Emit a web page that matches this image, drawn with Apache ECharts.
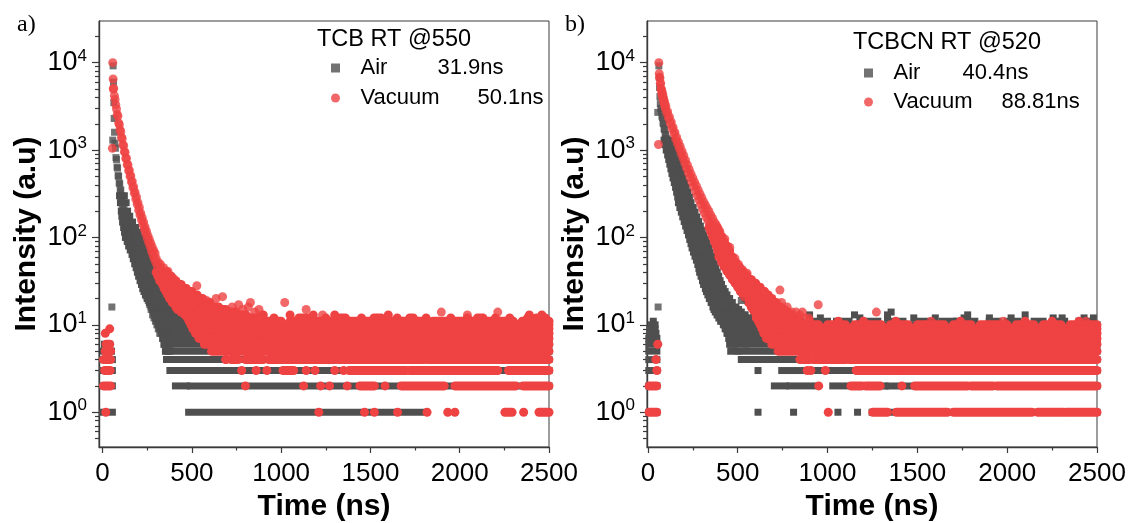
<!DOCTYPE html>
<html><head><meta charset="utf-8">
<script src="https://cdn.jsdelivr.net/npm/echarts@6/dist/echarts.min.js"></script>
<style>html,body{margin:0;padding:0;background:#fff}#c{width:1131px;height:523px}</style>
</head><body><div id="c"></div>
<script>
// ---------- tick labels / text ----------
const xTickLabels = [0, 500, 1000, 1500, 2000, 2500];
const xMinorTicks = [250, 750, 1250, 1750, 2250];
const yMajorTicks = [1, 10, 100, 1000, 10000];
const yMinorTicks = [0.5,0.6,0.7,0.8,0.9,2,3,4,5,6,7,8,9,20,30,40,50,60,70,80,90,200,300,400,500,600,700,800,900,2000,3000,4000,5000,6000,7000,8000,9000,20000];
const panelLetters = ['a)', 'b)'];
const sampleTitles = ['TCB RT @550', 'TCBCN RT @520'];
const seriesNames = ['Air', 'Vacuum'];
const lifetimesA = ['31.9ns', '50.1ns'];
const lifetimesB = ['40.4ns', '88.81ns'];

// ---------- panel a: Air (points [t(ns), counts]) ----------
const airA_points = [[52,16],[57,1300],[59,9200],[61,6000],[63,3500],[65,2300],[67,1600],[69,1200],[72,1050],[75,820],[78,780],[81,640],[84,620],[87,510],[90,500],[93,420],[96,410],[99,340],[102,350],[105,280],[108,300],[111,235],[114,260],[117,200],[120,225],[123,170],[126,195],[129,145],[132,170],[135,125],[138,150],[141,110],[144,135],[147,98],[150,120],[153,88],[156,108],[159,80],[162,98],[165,72],[168,90],[171,66],[174,82],[177,60],[180,75],[184,55],[188,68],[192,48],[196,60],[200,42],[204,54],[208,37],[212,48],[216,33],[220,43],[224,30],[228,38],[232,27],[236,34],[240,24],[244,31],[248,21],[252,28],[256,19],[260,25],[264,17],[268,22],[272,15],[276,20],[280,13],[284,18],[288,12],[292,16],[296,11],[300,14],[304,10],[308,13],[312,9],[316,12],[320,8],[324,11],[328,8],[332,10],[336,7],[340,9],[344,6],[348,9],[352,6],[356,8],[360,5],[364,7],[368,5],[372,8],[376,5],[380,6]];
// runs of equal counts: [counts, tStart, tEnd] (single dot: [counts, t])
const airA_runs = [[1,0,55],[2,0,55],[3,0,55],[4,0,55],[5,5,50],[6,10,40],
[300,95,122],[250,100,132],[200,105,140],[175,108,152],[150,112,168],[130,118,185],[115,123,200],[100,128,215],[90,138,228],[80,146,236],[72,155,245],[64,165,255],[57,172,265],[50,180,275],[45,188,285],[40,195,300],[36,202,315],[32,210,330],[29,218,345],[26,225,360],[24,232,375],[22,240,390],[20,250,405],[18,262,425],[16,272,445],[15,280,460],[14,286,475],[13,292,490],[12,298,505],[11,305,520],[10,312,540],
[9,320,2500],[8,330,2500],[7,338,2500],[6,345,2500],[5,352,2500],[4,358,2500],[3,377,2500],[2,408,470],[2,492,2500],[1,482,1810]];

// ---------- panel a: Vacuum ----------
const vacA_points = [[55,1050],[57,10000],[59,6500],[60,5000],[62,5100],[66,4200],[70,3800],[74,3300],[78,2950],[82,2550],[86,2450],[90,2050],[94,1950],[98,1700],[102,1620],[106,1400],[110,1350],[114,1150],[118,1120],[122,960],[126,940],[130,800],[134,800],[138,680],[142,680],[146,580],[150,590],[154,500],[158,510],[162,430],[166,440],[170,370],[174,380],[178,320],[182,330],[186,275],[190,290],[194,240],[198,250],[202,205],[206,220],[210,180],[214,190],[218,158],[222,168],[226,140],[230,150],[234,124],[238,132],[242,110],[246,118],[250,98],[254,105],[258,88],[262,95],[266,79],[270,86],[274,70],[278,78],[282,63],[286,71],[290,57],[294,66],[298,52],
[300,58],[306,47],[312,52],[318,40],[324,49],[330,44],[336,36],[342,45],[348,33],[354,40],[360,30],[366,41],[372,26],[378,36],[384,29],[390,24],[396,34],[402,27],[408,22],[414,31],[420,25],[426,19],[432,29],[438,22],[444,18],[450,27],[456,21],[462,16],[468,25],[474,19],[480,15],[486,24],[492,18],[498,13],[504,22],[510,17],[516,12],[522,21],[528,28],[534,15],[540,11],[546,20],[552,14],[558,7],[564,18],[570,13],[576,10],[582,19],[588,14],[594,11],[600,17],[606,12],[612,9],[618,16],[624,13],[630,10],[636,20],[642,12],[648,9],[654,15],[660,11],[666,8],[672,21],[678,12],[684,9],[690,4],[696,14],[702,10],[708,7],[714,13],[720,11],[726,16],[732,9],[738,12],[744,8],[750,14],[756,10],[762,17],[768,8],[774,12],[780,9],[786,15],[792,11],[798,7],[804,13],[810,10],[816,16],[822,9],[828,18],[834,12],[840,8],[846,11],[852,14],[858,9],[864,12],[870,10],[876,15],[882,8],[888,11],[894,13],[900,9],
[1020,18],[1140,15],[1232,13],[1897,14],[2043,13],[2213,14]];
const vacA_runs = [[1,18],[2,5,45],[3,12,42],[4,5,45],[5,15,45],[6,20,40],[8,15],[9,40],
[40,300,360],[36,310,385],[32,320,410],[29,335,440],[26,345,470],[24,355,500],[22,365,530],[20,375,560],[18,390,600],[16,410,650],[15,420,690],[14,440,740],[13,460,800],
[1,1211],[1,1467],[1,1522],[1,1652],[1,1817],[1,1933],[1,1973],[1,2253,2293],[1,2358],[1,2444,2500],
[2,800],[2,1126],[2,1221],[2,1271],[2,1370],[2,1441,1522],[2,1582],[2,1672,1913],[2,1973,2314],[2,2354,2500],
[3,779],[3,860],[3,920],[3,1010,1070],[3,1140],[3,1190],[3,1300],[3,1350],[3,1381,1700],[3,1720,2213],[3,2273,2500],
[4,690],[4,720,760],[4,800,900],[4,930,1300],[4,1320,1800],[4,1820,2500],
[5,610,2500],[6,570,2500],[7,540,2500],[8,520,2500],[9,505,2500],
[10,495,1200],[10,1220,2000],[10,2020,2500],
[11,485,800],[11,850,1000],[11,1050,1250],[11,1280,1500],[11,1550,1800],[11,1850,2100],[11,2150,2300],[11,2350,2500],
[12,475,700],[12,760],[12,820,860],[12,960],[12,1100,1150],[12,1250],[12,1330,1360],[12,1450],[12,1520,1560],[12,1650],[12,1720,1740],[12,1812],[12,1950],[12,2043],[12,2100,2130],[12,2200],[12,2280],[12,2380],[12,2430],[12,2480],
[13,900],[13,1050],[13,1180],[13,1300],[13,1600],[13,2390],[13,2460]];

// ---------- panel b: Air ----------
const airB_points = [[55,2700],[57,16],[61,9200],[63,6800],[65,5200],[67,4100],[69,3400],[72,3000],[75,2800],[78,2450],[81,2350],[84,2050],[87,2000],[90,1750],[93,1720],[96,1500],[99,1500],[102,1320],[105,1350],[108,1180],[111,1230],[114,1060],[117,1120],[120,960],[124,1000],[128,860],[132,900],[136,760],[140,800],[144,670],[148,710],[152,600],[156,640],[160,530],[164,570],[168,470],[172,500],[176,410],[180,445],[184,360],[188,395],[192,320],[196,350],
[200,270],[204,330],[208,235],[212,290],[216,205],[220,262],[224,182],[228,235],[232,158],[236,210],[240,138],[244,188],[248,120],[252,168],[256,105],[260,150],[264,92],[268,134],[272,80],[276,120],[280,70],[284,106],[288,62],[292,95],[296,55],[300,84],
[305,58],[310,72],[315,48],[320,62],[325,42],[330,55],[335,37],[340,49],[345,32],[350,44],[355,28],[360,39],[365,24],[370,34],[375,21],[380,30],[385,18],[390,27],[395,16],[400,24],[405,13],[410,21],[415,11],[420,19],[425,10],[430,17],[435,9],[440,16],[445,8],[450,15],[455,7],[460,13],[465,6],[470,12],[475,8],[480,14],[485,6],[490,11],[495,9],[500,5],[505,12],[510,8],[515,10],[520,19],[525,7],[530,11],[535,9],[540,13],[545,6],[550,10],[555,8],[560,12]];
const airB_runs = [[1,5,50],[2,5,50],[3,5,50],[4,5,50],[5,5,50],[6,5,50],[7,5,50],[8,10,45],[9,10,40],[10,20,40],[11,30],
[1300,90,135],[1150,96,142],[1000,102,150],[880,110,158],[780,116,165],[690,122,172],[610,128,180],[540,134,188],[480,140,196],[425,147,204],[375,154,213],[330,160,222],[290,166,231],
[250,170,240],[220,178,252],[195,186,262],[172,194,272],[152,202,282],[135,210,292],[120,218,302],[107,226,312],[95,233,322],[85,240,330],[76,246,338],[68,254,346],[61,262,354],[55,270,362],[49,278,370],[44,284,378],[40,288,386],[36,296,394],[32,304,402],[29,310,410],[26,320,420],[24,326,430],[22,334,440],[20,342,455],[18,352,470],[16,362,490],[15,368,505],[14,375,520],[13,385,540],[12,395,700],[11,405,760],[10,420,2500],
[9,430,2500],[8,440,2500],[7,450,2500],[6,455,2500],[5,461,2500],[4,520,2500],
[3,613],[3,745,846],[3,870,2500],
[2,704,765],[2,789,927],[2,1029,1130],[2,1180,1320],[2,1340,2500],
[1,613],[1,811],[1,1058],[1,1167],[1,1248],[1,1300,2500],
[11,780,850],[11,900,1000],[11,1050,1120],[11,1200,1280],[11,1350,1420],[11,1500,1560],[11,1640,1700],[11,1718,1820],[11,1900,1950],[11,2000,2060],[11,2150,2200],[11,2256,2320],[11,2400,2460],
[12,820],[12,960],[12,1180],[12,1334],[12,1480],[12,1600],[12,1760],[12,1901],[12,2022],[12,2256],[12,2306],[12,2428],[12,2480],
[13,900],[13,1150],[13,1334],[13,1780],[13,2100],[14,1354]];

// ---------- panel b: Vacuum ----------
const vacB_points = [[59,1160],[61,10000],[63,7500],[65,6800],[67,6700],[69,5800],[71,5800],[73,5000],[75,5000],[77,4450],[79,4650],[81,4100],[83,4300],[85,3800],[87,3950],[89,3500],[91,3650],[93,3230],[95,3380],[97,2980],[100,3150],[105,2650],[110,2750],[115,2320],[120,2400],[125,2020],[130,2100],[135,1760],[140,1830],[145,1540],[150,1600],[155,1340],[160,1400],[165,1180],[170,1240],[175,1040],[180,1100],[185,915],[190,970],[195,810],[200,860],[205,710],[210,760],[215,625],[220,675],[225,550],[230,600],[235,485],[240,535],[245,430],[250,480],[255,385],[260,430],[265,340],[270,390],[275,300],[280,350],[285,268],[290,315],[295,238],[300,285],[305,212],[310,256],[315,190],[320,235],[325,170],[330,215],[335,155],[340,198],[345,140],[350,180],[355,128],[360,165],[365,116],[370,150],[375,104],[380,140],[385,95],[390,128],[395,86],[400,118],[405,80],[410,104],[415,74],
[420,80],[424,58],[428,96],[432,64],[436,78],[440,46],[444,79],[448,51],[452,61],[456,77],[460,42],[464,48],[468,59],[472,34],[476,50],[480,39],[484,58],[488,33],[492,41],[496,47],[500,32],[504,49],[508,34],[512,25],[516,35],[520,26],[524,43],[528,29],[532,36],[536,21],[540,38],[544,25],[548,30],[552,39],[556,22],[560,25],[564,31],[568,18],[572,27],[576,21],[580,32],[584,18],[588,22],[592,26],[596,18],[600,27],[604,19],[608,14],[612,20],[616,15],[620,25],[624,17],[628,21],[632,13],[636,22],[640,15],[644,18],[648,24],[652,13],[656,16],[660,19],[664,11],[668,17],[672,13],[676,20],[680,12],[684,15],[688,17],[692,12],[696,18],[700,13],[704,10],[708,14],[712,10],[716,18],[720,12],[724,15],[728,9],[732,16],[735,25],[736,11],[740,13],[744,18],[748,10],[752,12],[756,15],[760,9],
[765,13],[770,10],[775,16],[780,9],[785,11],[790,13],[795,9],[800,14],[805,10],[810,8],[815,11],[820,8],[825,14],[830,9],[835,12],[840,7],[845,13],[850,8],[855,10],[860,14],[865,8],[870,9],[875,12],[880,7],[885,10],[890,8],[895,12],[900,7],
[948,17],[1272,14],[1577,11],[1978,11],[2438,11]];
const vacB_runs = [[1,7,49],[2,7,49],[3,50],[4,45],[6,55],
[130,340,385],[115,350,397],[102,360,410],[90,370,425],[80,380,440],[70,388,455],
[60,395,470],[52,410,490],[46,425,510],[41,440,530],[37,455,550],[33,470,575],[30,485,600],[27,500,625],[24,515,650],[22,530,670],[20,545,690],[18,560,710],[16,575,740],[15,585,760],[14,592,780],[13,598,800],[12,603,820],[11,615,840],
[1,1004],[1,1252,1333],[1,1383,1667],[1,1701,2138],[1,2170,2315],[1,2330,2500],
[2,951],[2,1130,1191],[2,1211,1293],[2,1414],[2,1485,1779],[2,1799,1921],[2,1942,2500],
[3,887],[3,907],[3,988],[3,1160,1420],[3,1430,2500],
[4,846,900],[4,920,1100],[4,1120,2500],
[5,725,2500],[6,690,2500],[7,660,2500],[8,645,2500],
[9,635,1000],[9,1020,1500],[9,1520,2500],
[10,625,800],[10,850,950],[10,1000,1100],[10,1150,1300],[10,1350,1450],[10,1500,1650],[10,1700,1800],[10,1850,2000],[10,2050,2150],[10,2200,2300],[10,2350,2500],
[11,900],[11,1060],[11,1200],[11,1380],[11,1740],[11,2100],[11,2250],[11,2400]];

// ---------- chart ----------
const GRAY = '#4f4f4f', RED = '#ef4242', AX = '#3a3a3a';
const FONT = '"Liberation Sans", Arial, Helvetica, sans-serif';
const SERIF = '"Liberation Serif", "Times New Roman", serif';
const yLogMin = Math.log10(0.4), yLogMax = Math.log10(30000);

const panels = [
  {left: 99, xMin: -20, air: airA_points, airRuns: airA_runs, vac: vacA_points, vacRuns: vacA_runs, life: lifetimesA},
  {left: 647, xMin: -5, air: airB_points, airRuns: airB_runs, vac: vacB_points, vacRuns: vacB_runs, life: lifetimesB}
];

function norm(runs) { return runs.map(r => r.length === 2 ? [r[0], r[1], r[1]] : r); }
function runRenderer(color, half, rounded) {
  return function (params, api) {
    const v = api.value(0), t0 = api.value(1), t1 = api.value(2);
    const a = api.coord([t0, v]), b = api.coord([t1, v]);
    return {type: 'rect', shape: {x: a[0] - half, y: a[1] - half, width: b[0] - a[0] + 2 * half, height: 2 * half, r: rounded ? half : 0},
      style: {fill: color}};
  };
}

const grids = [], xAxes = [], yAxes = [], series = [], legends = [], titles = [];
panels.forEach((p, i) => {
  grids.push({left: p.left, top: 21, width: 450, height: 426, show: true, borderColor: AX, borderWidth: 1,
    backgroundColor: 'transparent', containLabel: false, outerBoundsMode: 'none'});
  const axisLine = {show: true, onZero: false, lineStyle: {color: AX, width: 1.4}};
  xAxes.push({gridIndex: i, type: 'value', position: 'bottom', min: p.xMin, max: 2500,
    axisLine: axisLine,
    axisTick: {show: true, customValues: xTickLabels, length: 6, lineStyle: {color: AX, width: 1.2}},
    axisLabel: {show: true, customValues: xTickLabels, formatter: v => '{t|' + v + '}', margin: 13,
      rich: {t: {fontSize: 26, lineHeight: 28, fontFamily: FONT, color: '#000'}}},
    splitLine: {show: false},
    name: 'Time (ns)', nameLocation: 'middle', nameGap: 45,
    nameTextStyle: {fontSize: 30, fontWeight: 'bold', color: '#000', fontFamily: FONT}});
  xAxes.push({gridIndex: i, type: 'value', position: 'bottom', min: p.xMin, max: 2500,
    axisLine: {show: false, onZero: false},
    axisTick: {show: true, customValues: xMinorTicks, length: 3.5, lineStyle: {color: AX, width: 1.2}},
    axisLabel: {show: false}, splitLine: {show: false}});
  yAxes.push({gridIndex: i, type: 'log', logBase: 10, min: 0.4, max: 30000, position: 'left',
    axisLine: {show: false, onZero: false}, axisTick: {show: false}, axisLabel: {show: false}, splitLine: {show: false}});
  yAxes.push({gridIndex: i, type: 'value', position: 'left', min: yLogMin, max: yLogMax,
    axisLine: axisLine,
    axisTick: {show: true, customValues: yMajorTicks.map(Math.log10), length: 7, lineStyle: {color: AX, width: 1.2}},
    axisLabel: {show: true, customValues: yMajorTicks.map(Math.log10), margin: 12,
      formatter: v => '{b|10}{s|' + Math.round(v) + '}',
      rich: {b: {fontSize: 27, lineHeight: 30, fontFamily: FONT, color: '#000'},
             s: {fontSize: 17, lineHeight: 17, verticalAlign: 'top', fontFamily: FONT, color: '#000'}}},
    splitLine: {show: false},
    name: 'Intensity (a.u)', nameLocation: 'middle', nameGap: 57,
    nameTextStyle: {fontSize: 30, fontWeight: 'bold', color: '#000', fontFamily: FONT}});
  yAxes.push({gridIndex: i, type: 'value', position: 'left', min: yLogMin, max: yLogMax,
    axisLine: {show: false, onZero: false},
    axisTick: {show: true, customValues: yMinorTicks.map(Math.log10), length: 4, lineStyle: {color: AX, width: 1.2}},
    axisLabel: {show: false}, splitLine: {show: false}});

  const xi = 2 * i, yi = 3 * i;
  series.push({type: 'scatter', name: 'Air', xAxisIndex: xi, yAxisIndex: yi, data: p.air,
    symbol: 'rect', symbolSize: 7, itemStyle: {color: GRAY}, silent: true});
  series.push({type: 'custom', name: 'Air', xAxisIndex: xi, yAxisIndex: yi, data: norm(p.airRuns),
    encode: {x: [1, 2], y: 0}, renderItem: runRenderer(GRAY, 3.5, false), itemStyle: {color: GRAY}, silent: true});
  series.push({type: 'scatter', name: 'Vacuum', xAxisIndex: xi, yAxisIndex: yi, data: p.vac,
    symbol: 'circle', symbolSize: 9, itemStyle: {color: RED}, silent: true});
  series.push({type: 'custom', name: 'Vacuum', xAxisIndex: xi, yAxisIndex: yi, data: norm(p.vacRuns),
    encode: {x: [1, 2], y: 0}, renderItem: runRenderer(RED, 4.5, true), itemStyle: {color: RED}, silent: true});

  const n1 = i === 0 ? 77 : 69, n2 = i === 0 ? 117 : 108;
  legends.push({show: true, orient: 'vertical', left: i === 0 ? 331 : 864, top: i === 0 ? 55 : 60,
    padding: 0, itemGap: i === 0 ? 4 : 3, itemWidth: 40, itemHeight: 9, symbolKeepAspect: true, selectedMode: false,
    data: [{name: 'Air', icon: 'path://M0,0L10,0L10,10L0,10Z', itemStyle: {color: GRAY}},
           {name: 'Vacuum', icon: 'circle', itemStyle: {color: RED}}],
    formatter: name => name === 'Air' ? '{n1|Air}{v|' + p.life[0] + '}' : '{n2|Vacuum}{v|' + p.life[1] + '}',
    textStyle: {fontSize: 22, lineHeight: 26, color: '#000', fontFamily: FONT,
      rich: {n1: {width: n1, fontSize: 22, lineHeight: 26, fontFamily: FONT},
             n2: {width: n2, fontSize: 22, lineHeight: 26, fontFamily: FONT},
             v: {fontSize: 22, lineHeight: 26, fontFamily: FONT}}}});
  titles.push({text: sampleTitles[i], left: i === 0 ? 317 : 853, top: i === 0 ? 28 : 31, padding: 0,
    textStyle: {fontSize: 23.5, lineHeight: 24, fontWeight: 'normal', color: '#000', fontFamily: FONT}});
  titles.push({text: panelLetters[i], left: i === 0 ? 17 : 565, top: 13, padding: 0,
    textStyle: {fontSize: 24, lineHeight: 24, fontWeight: 'normal', color: '#000', fontFamily: SERIF}});
});

const chart = echarts.init(document.getElementById('c'), null, {renderer: 'canvas', width: 1131, height: 523});
chart.setOption({
  animation: false, backgroundColor: '#fff',
  title: titles, legend: legends, grid: grids, xAxis: xAxes, yAxis: yAxes, series: series
});
</script></body></html>
